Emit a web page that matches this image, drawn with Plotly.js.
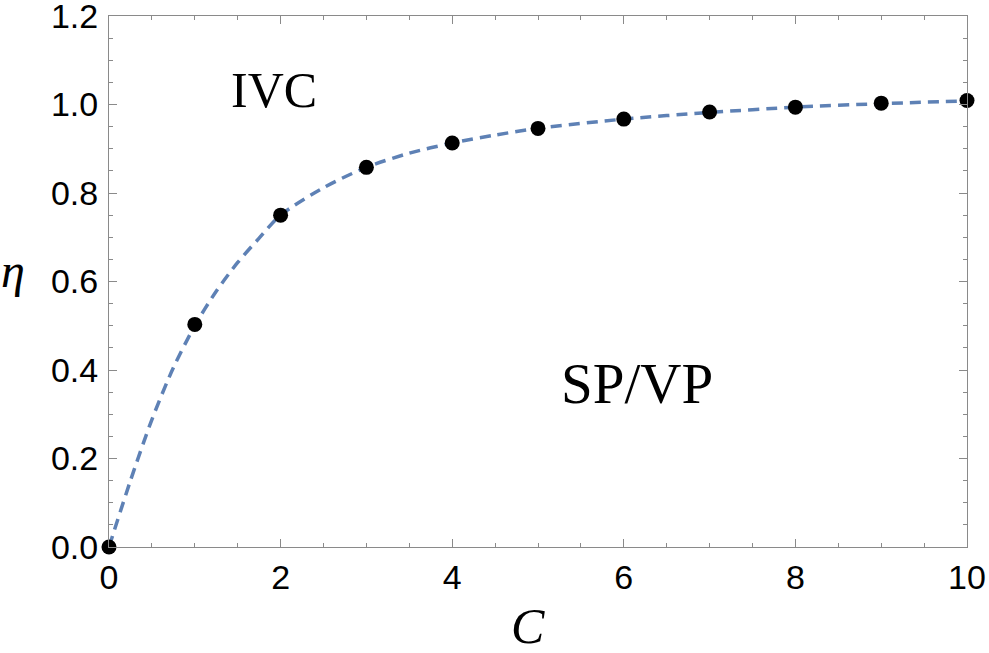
<!DOCTYPE html>
<html>
<head>
<meta charset="utf-8">
<script src="https://cdn.plot.ly/plotly-3.0.1.min.js"></script>
<style>html,body{margin:0;padding:0;background:#fff;}#chart{width:989px;height:653px;}</style>
</head>
<body>
<div id="chart"></div>
<script>
// Data points (black dots)
const pointsC = [0, 1, 2, 3, 4, 5, 6, 7, 8, 9, 10];
const pointsEta = [0, 0.503, 0.750, 0.858, 0.913, 0.946, 0.967, 0.983, 0.994, 1.003, 1.009];

// Dashed fit curve
const curveC = [0, 0.25, 0.5, 0.75, 1, 1.25, 1.5, 1.75, 2, 2.5, 3, 3.5, 4, 4.5, 5, 6, 7, 8, 9, 10];
const curveEta = [0, 0.15, 0.288, 0.405, 0.50, 0.578, 0.643, 0.698, 0.75, 0.812, 0.858, 0.89, 0.913, 0.931, 0.946, 0.967, 0.982, 0.994, 1.002, 1.008];

// Region labels
const labelText = ["IVC", "SP/VP"];

const frameColor = '#8a8a8a';

const traces = [
  {
    x: curveC, y: curveEta, type: 'scatter', mode: 'lines',
    line: {color: '#5e81b5', width: 3.5, dash: '11px,7px', shape: 'spline', smoothing: 0.8},
    hoverinfo: 'skip', cliponaxis: false
  },
  {
    x: pointsC, y: pointsEta, type: 'scatter', mode: 'markers',
    marker: {color: '#000', size: 15},
    cliponaxis: false
  }
];

const axisCommon = {
  showgrid: false, zeroline: false,
  showline: true, linecolor: frameColor, linewidth: 1, mirror: 'ticks',
  ticks: 'inside', ticklen: 8, tickwidth: 1, tickcolor: frameColor,
  ticklabeloverflow: 'allow',
  tickfont: {family: 'Liberation Sans, Arial, sans-serif', size: 34, color: '#000'}
};

const layout = {
  width: 989, height: 653,
  margin: {l: 109, r: 22, t: 16, b: 106},
  paper_bgcolor: '#fff', plot_bgcolor: '#fff',
  showlegend: false,
  xaxis: Object.assign({}, axisCommon, {
    range: [0, 10], tickvals: [0, 2, 4, 6, 8, 10], ticktext: ['0', '2', '4', '6', '8', '10'],
    minor: {dtick: 0.5, tick0: 0, ticks: 'inside', ticklen: 4, tickcolor: frameColor, tickwidth: 1},
    ticklabelstandoff: 0
  }),
  yaxis: Object.assign({}, axisCommon, {
    range: [0, 1.2], tickvals: [0, 0.2, 0.4, 0.6, 0.8, 1.0, 1.2],
    ticktext: ['0.0', '0.2', '0.4', '0.6', '0.8', '1.0', '1.2'],
    minor: {dtick: 0.05, tick0: 0, ticks: 'inside', ticklen: 4, tickcolor: frameColor, tickwidth: 1},
    ticklabelstandoff: 3
  }),
  annotations: [
    {text: 'C', xref: 'paper', yref: 'paper', x: 0.488, y: -0.149, xanchor: 'center', yanchor: 'middle',
     showarrow: false, font: {family: 'Liberation Serif, Times New Roman, serif', size: 50, color: '#000', style: 'italic'}},
    {text: 'η', xref: 'paper', yref: 'paper', x: -0.112, y: 0.52, xanchor: 'center', yanchor: 'middle',
     showarrow: false, font: {family: 'Liberation Serif, Times New Roman, serif', size: 48, color: '#000', style: 'italic'}},
    {text: labelText[0], xref: 'paper', yref: 'paper', x: (274 - 109) / 857.7, y: (546.7 - 90) / 530.7, xanchor: 'center', yanchor: 'middle',
     showarrow: false, font: {family: 'Liberation Serif, Times New Roman, serif', size: 50, color: '#000'}},
    {text: labelText[1], xref: 'paper', yref: 'paper', x: (637 - 109) / 857.7, y: (546.7 - 383) / 530.7, xanchor: 'center', yanchor: 'middle',
     showarrow: false, font: {family: 'Liberation Serif, Times New Roman, serif', size: 57, color: '#000'}}
  ]
};

Plotly.newPlot('chart', traces, layout, {displayModeBar: false, staticPlot: true});
</script>
</body>
</html>
